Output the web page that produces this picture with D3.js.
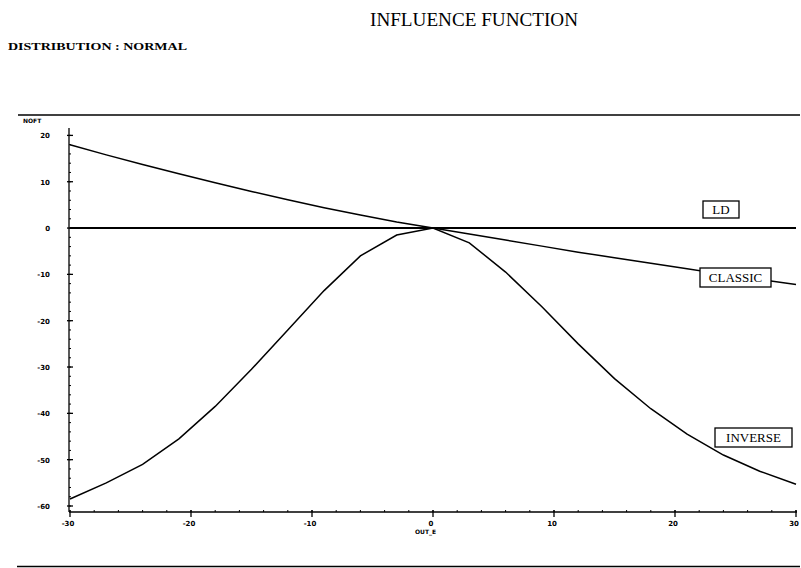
<!DOCTYPE html>
<html>
<head>
<meta charset="utf-8">
<script src="https://cdn.jsdelivr.net/npm/d3@7"></script>
<style>
  body { margin: 0; background: #fff; }
  svg { display: block; }
  text { fill: #000; }
</style>
</head>
<body>
<svg id="chart" width="801" height="568"></svg>
<script>
// x grid of the influence curves (OUT_E)
var outE = [-30, -27, -24, -21, -18, -15, -12, -9, -6, -3, 0, 3, 6, 9, 12, 15, 18, 21, 24, 27, 30];

// series
var ldValues = [0, 0, 0, 0, 0, 0, 0, 0, 0, 0, 0, 0, 0, 0, 0, 0, 0, 0, 0, 0, 0];
var classicValues = [18, 15.8, 13.7, 11.7, 9.8, 7.9, 6.1, 4.4, 2.8, 1.3, 0, -1.3, -2.6, -3.9, -5.2, -6.4, -7.6, -8.8, -10, -11.1, -12.2];
var inverseValues = [-58.5, -55, -51, -45.5, -38.5, -30.5, -22, -13.5, -6, -1.5, 0, -3.2, -9.5, -17, -25, -32.5, -39, -44.5, -49, -52.5, -55.3];

var seriesNames = ["LD", "CLASSIC", "INVERSE"];

// tick labels
var xTicks = [-30, -20, -10, 0, 10, 20, 30];
var yTicks = [20, 10, 0, -10, -20, -30, -40, -50, -60];

var svg = d3.select("#chart");

var x = d3.scaleLinear().domain([-30, 30]).range([70, 796]);
var y = d3.scaleLinear().domain([-60, 20]).range([506, 135.4]);

// titles
svg.append("text")
    .attr("x", 370).attr("y", 26)
    .attr("textLength", 208).attr("lengthAdjust", "spacingAndGlyphs")
    .style("font-family", "Liberation Serif, serif")
    .style("font-size", "19px")
    .text("INFLUENCE FUNCTION");

svg.append("text")
    .attr("x", 8).attr("y", 50)
    .attr("textLength", 179).attr("lengthAdjust", "spacingAndGlyphs")
    .style("font-family", "Liberation Serif, serif")
    .style("font-size", "11px")
    .style("font-weight", "600")
    .text("DISTRIBUTION : NORMAL");

// frame lines top and bottom
svg.append("line").attr("x1", 18).attr("x2", 800).attr("y1", 115).attr("y2", 115)
    .attr("stroke", "#000").attr("stroke-width", 1.5);
svg.append("line").attr("x1", 17).attr("x2", 800).attr("y1", 566.5).attr("y2", 566.5)
    .attr("stroke", "#000").attr("stroke-width", 1.5);

// axes
var axisY = 512;
var axisX = 69;

svg.append("line").attr("x1", axisX).attr("x2", axisX).attr("y1", 128).attr("y2", axisY)
    .attr("stroke", "#000").attr("stroke-width", 1.3);
svg.append("line").attr("x1", axisX).attr("x2", 797).attr("y1", axisY).attr("y2", axisY)
    .attr("stroke", "#000").attr("stroke-width", 1.3);

// minor ticks
var xMinor = d3.range(-30, 31, 2);
svg.selectAll(".xminor").data(xMinor).join("line")
    .attr("x1", d => x(d)).attr("x2", d => x(d))
    .attr("y1", axisY - 2).attr("y2", axisY)
    .attr("stroke", "#000").attr("stroke-width", 1);
var yMinor = d3.range(-60, 21, 2);
svg.selectAll(".yminor").data(yMinor).join("line")
    .attr("x1", axisX).attr("x2", axisX + 2)
    .attr("y1", d => y(d)).attr("y2", d => y(d))
    .attr("stroke", "#000").attr("stroke-width", 1);

// major ticks
svg.selectAll(".xmajor").data(xTicks).join("line")
    .attr("x1", d => x(d)).attr("x2", d => x(d))
    .attr("y1", axisY - 2).attr("y2", axisY + 5)
    .attr("stroke", "#000").attr("stroke-width", 1.3);
svg.selectAll(".ymajor").data(yTicks).join("line")
    .attr("x1", axisX - 2).attr("x2", axisX + 4)
    .attr("y1", d => y(d)).attr("y2", d => y(d))
    .attr("stroke", "#000").attr("stroke-width", 1.3);

// tick labels
svg.selectAll(".xlab").data(xTicks).join("text")
    .attr("x", d => x(d) - 2).attr("y", 526)
    .attr("text-anchor", "middle")
    .style("font-family", "DejaVu Sans, sans-serif")
    .style("font-size", "7px").style("font-weight", "bold")
    .text(d => d);
svg.selectAll(".ylab").data(yTicks).join("text")
    .attr("x", 50).attr("y", d => y(d) + 3)
    .attr("text-anchor", "end")
    .style("font-family", "DejaVu Sans, sans-serif")
    .style("font-size", "7px").style("font-weight", "bold")
    .text(d => d);

// axis labels
svg.append("text").attr("x", 23).attr("y", 123)
    .style("font-family", "DejaVu Sans, sans-serif")
    .style("font-size", "6px").style("font-weight", "bold")
    .text("NOFT");
svg.append("text").attr("x", 415).attr("y", 534)
    .style("font-family", "DejaVu Sans, sans-serif")
    .style("font-size", "6px").style("font-weight", "bold")
    .text("OUT_E");

// curves
var line = d3.line().x(d => x(d[0])).y(d => y(d[1]));
var allSeries = [ldValues, classicValues, inverseValues];
allSeries.forEach(function (vals, i) {
    var pts = outE.map((e, j) => [e, vals[j]]);
    svg.append("path")
        .datum(pts)
        .attr("d", line)
        .attr("fill", "none")
        .attr("stroke", "#000")
        .attr("stroke-width", i === 0 ? 2 : 1.5);
});

// labels in boxes
var boxes = [
    { name: seriesNames[0], x0: 703, y0: 201, w: 36, h: 17 },
    { name: seriesNames[1], x0: 700, y0: 268, w: 71, h: 19 },
    { name: seriesNames[2], x0: 715, y0: 428, w: 77, h: 19 }
];
boxes.forEach(function (b) {
    svg.append("rect")
        .attr("x", b.x0).attr("y", b.y0).attr("width", b.w).attr("height", b.h)
        .attr("fill", "#fff").attr("stroke", "#000").attr("stroke-width", 1.3);
    svg.append("text")
        .attr("x", b.x0 + b.w / 2).attr("y", b.y0 + b.h / 2 + 4.5)
        .attr("text-anchor", "middle")
        .style("font-family", "Liberation Serif, serif")
        .style("font-size", "13px")
        .text(b.name);
});
</script>
</body>
</html>
